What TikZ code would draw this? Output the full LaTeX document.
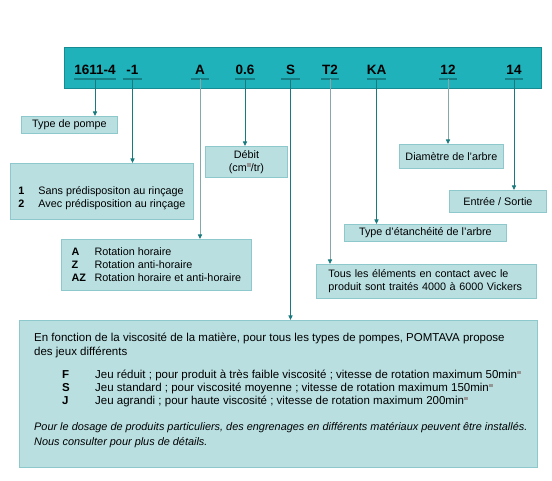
\documentclass[tikz,border=0pt]{standalone}
\usepackage{fontspec}
\setmainfont{Liberation Sans}
\usetikzlibrary{arrows.meta,positioning,calc}
\definecolor{barteal}{RGB}{31,178,187}
\definecolor{baredge}{RGB}{22,140,146}
\definecolor{ulinecol}{RGB}{20,128,134}
\definecolor{boxfill}{RGB}{185,223,225}
\definecolor{boxedge}{RGB}{140,200,204}
\definecolor{leaddark}{RGB}{24,122,126}
\definecolor{leadgrey}{RGB}{135,168,170}
\definecolor{markgrey}{RGB}{150,150,150}
\newcommand{\sqm}{\textcolor{markgrey}{\rule[4.5pt]{4pt}{3.5pt}}}
\tikzset{
  bar/.style={draw=baredge,fill=barteal,line width=.8pt},
  code/.style={font=\fontsize{13.5}{15}\selectfont\bfseries,inner sep=0pt,
               anchor=base},
  uline/.style={draw=ulinecol,line width=1.6pt},
  box/.style={draw=boxedge,fill=boxfill,line width=.8pt,anchor=north west,
              inner sep=0pt,align=center,font=\fontsize{10.8}{13}\selectfont},
  lead/.style={-{Triangle[length=4.5pt,width=4pt,color=leaddark]},
               draw=leaddark,line width=.9pt},
  leadlt/.style={lead,draw=leadgrey},
}

\begin{document}
\begin{tikzpicture}[x=1pt,y=-1pt]
  \useasboundingbox (0,0) rectangle (552,481);
  % code bar
  \node[bar,anchor=north west,minimum width=477pt,minimum height=41pt,
        inner sep=0pt] (codebar) at (64,47) {};
  \foreach \n/\txt/\x/\w in {1/1611-4/95/42,2/-1/132.5/19,3/A/200/18,
                             4/0.6/245/18,5/S/290.5/18,6/T2/330/18,
                             7/KA/376.5/19,8/12/448/18,9/14/514/18}
  {
    \node[code,minimum width=\w pt] (c\n) at (\x,75) {\txt};
    \coordinate (u\n) at ([yshift=-4pt]c\n.base);
    \draw[uline] ([yshift=-4pt]c\n.base west) -- ([yshift=-4pt]c\n.base east);
  }
  % boxes
  \node[box,minimum width=96pt,minimum height=17pt] (pompe) at (21,116)
    {Type de pompe};
  \node[box,minimum width=183pt,minimum height=56pt,align=left] (rincage) at (10,163)
    {\rule{0pt}{21pt}\makebox[20pt][l]{\textbf{1}}Sans prédispositon au rinçage\\
     \makebox[20pt][l]{\textbf{2}}Avec prédisposition au rinçage};
  \node[box,minimum width=82pt,minimum height=31pt] (debit) at (205,146)
    {Débit\\(cm\sqm/tr)};
  \node[box,minimum width=104pt,minimum height=24pt] (diam) at (399,144)
    {Diamètre de l’arbre};
  \node[box,minimum width=97pt,minimum height=22pt] (entree) at (449,190)
    {Entrée / Sortie};
  \node[box,minimum width=162pt,minimum height=17pt] (etanch) at (344,224)
    {Type d’étanchéité de l’arbre};
  \node[box,minimum width=190pt,minimum height=51pt,align=left] (rotation) at (61,239)
    {\makebox[23pt][l]{\textbf{A}}Rotation horaire\\
     \makebox[23pt][l]{\textbf{Z}}Rotation anti-horaire\\
     \makebox[23pt][l]{\textbf{AZ}}Rotation horaire et anti-horaire};
  \node[box,minimum width=220pt,minimum height=34pt,align=left,
        text width=196pt] (traite) at (316,264)
    {Tous les éléments en contact avec le\\
     produit sont traités 4000 à 6000 Vickers};
  \node[box,minimum width=518pt,minimum height=147pt] (jeux) at (19,320) {};
  \node[anchor=north west,inner sep=0pt,align=left,
        font=\fontsize{11.5}{14}\selectfont] (jeuxtxt) at ($(jeux.north west)+(15,13)$)
    {En fonction de la viscosité de la matière, pour tous les types de pompes, POMTAVA propose\\
     des jeux différents\\[9pt]
     \hspace*{28pt}\makebox[33pt][l]{\textbf{F}}Jeu réduit ; pour produit à très faible viscosité ; vitesse de rotation maximum 50min\sqm\\[-1pt]
     \hspace*{28pt}\makebox[33pt][l]{\textbf{S}}Jeu standard ; pour viscosité moyenne ; vitesse de rotation maximum 150min\sqm\\[-1pt]
     \hspace*{28pt}\makebox[33pt][l]{\textbf{J}}Jeu agrandi ; pour haute viscosité ; vitesse de rotation maximum 200min\sqm\\[12pt]
     {\fontsize{10.9}{14}\selectfont\itshape Pour le dosage de produits particuliers, des engrenages en différents matériaux peuvent être installés.}\\[1pt]
     {\fontsize{10.9}{14}\selectfont\itshape Nous consulter pour plus de détails.}};
  % leads
  \draw[lead]   (u1) -- (u1 |- pompe.north);
  \draw[lead]   (u2) -- (u2 |- rincage.north);
  \draw[leadlt] (u3) -- (u3 |- rotation.north);
  \draw[lead]   (u4) -- (u4 |- debit.north);
  \draw[lead]   (u5) -- (u5 |- jeux.north);
  \draw[leadlt] (u6) -- (u6 |- traite.north);
  \draw[lead]   (u7) -- (u7 |- etanch.north);
  \draw[leadlt] (u8) -- (u8 |- diam.north);
  \draw[lead]   (u9) -- (u9 |- entree.north);
\end{tikzpicture}
\end{document}
